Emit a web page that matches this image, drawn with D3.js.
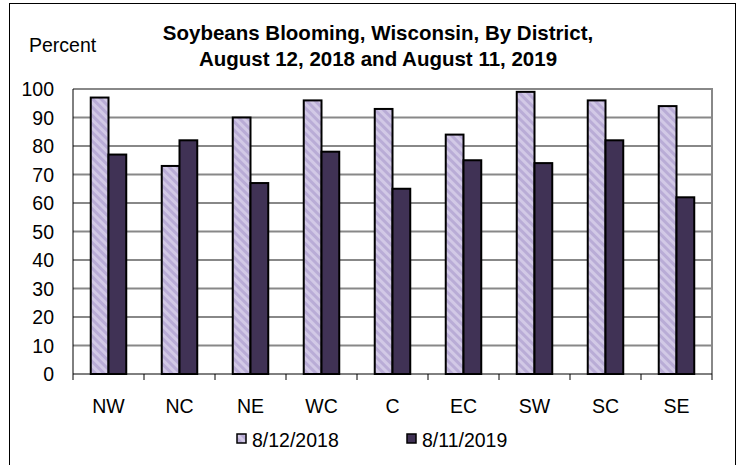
<!DOCTYPE html>
<html>
<head>
<meta charset="utf-8">
<script src="https://cdn.jsdelivr.net/npm/d3@7"></script>
<style>
  body { margin: 0; background: #fff; }
  text { font-family: "Liberation Sans", Arial, sans-serif; }
</style>
</head>
<body>
<svg id="chart" width="743" height="465"></svg>
<script>
// districts and the two survey weeks
const districts = ["NW", "NC", "NE", "WC", "C", "EC", "SW", "SC", "SE"];
const seriesNames = ["8/12/2018", "8/11/2019"];
const values2018 = [97, 73, 90, 96, 93, 84, 99, 96, 94];
const values2019 = [77, 82, 67, 78, 65, 75, 74, 82, 62];
const yTicks = [0, 10, 20, 30, 40, 50, 60, 70, 80, 90, 100];

const svg = d3.select("#chart");
const defs = svg.append("defs");

// diagonal stripe fill for the 2018 bars
const pat = defs.append("pattern")
  .attr("id", "stripe")
  .attr("patternUnits", "userSpaceOnUse")
  .attr("width", 6).attr("height", 6)
  .attr("patternTransform", "rotate(-45)");
pat.append("rect").attr("width", 6).attr("height", 6).attr("fill", "#d2c9e6");
pat.append("rect").attr("width", 3).attr("height", 6).attr("fill", "#b9acd6");

const colors = ["url(#stripe)", "#403255"];

// outer frame
svg.append("rect")
  .attr("x", 9.5).attr("y", 3.5)
  .attr("width", 726).attr("height", 470)
  .attr("fill", "none").attr("stroke", "#000").attr("stroke-width", 1);

const plot = { left: 73, right: 712, top: 89, bottom: 374 };

const x = d3.scaleBand().domain(districts).range([plot.left, plot.right]);
const y = d3.scaleLinear().domain([0, 100]).range([plot.bottom, plot.top]);

// gridlines
svg.append("g").selectAll("line")
  .data(yTicks.filter(d => d > 0))
  .join("line")
  .attr("x1", plot.left).attr("x2", plot.right)
  .attr("y1", d => y(d)).attr("y2", d => y(d))
  .attr("stroke", "#888").attr("stroke-width", 2);

// right border of plot
svg.append("line")
  .attr("x1", plot.right).attr("x2", plot.right)
  .attr("y1", plot.top - 1).attr("y2", plot.bottom)
  .attr("stroke", "#888").attr("stroke-width", 2);

// bars
const barW = x.bandwidth() / 4;
const rows = [values2018, values2019];
rows.forEach((vals, si) => {
  svg.append("g").selectAll("rect")
    .data(districts.map((d, i) => ({ d, v: vals[i] })))
    .join("rect")
    .attr("x", p => x(p.d) + x.bandwidth() / 4 + si * barW)
    .attr("y", p => y(p.v))
    .attr("width", barW)
    .attr("height", p => y(0) - y(p.v))
    .attr("fill", colors[si])
    .attr("stroke", "#000").attr("stroke-width", 2);
});

// axes
svg.append("line")
  .attr("x1", plot.left).attr("x2", plot.left)
  .attr("y1", plot.top).attr("y2", plot.bottom)
  .attr("stroke", "#000").attr("stroke-width", 1);
svg.append("line")
  .attr("x1", plot.left).attr("x2", plot.right)
  .attr("y1", plot.bottom).attr("y2", plot.bottom)
  .attr("stroke", "#000").attr("stroke-width", 1);

// category boundary ticks
svg.append("g").selectAll("line")
  .data(d3.range(districts.length + 1))
  .join("line")
  .attr("x1", i => plot.left + i * x.step())
  .attr("x2", i => plot.left + i * x.step())
  .attr("y1", plot.bottom).attr("y2", plot.bottom + 6)
  .attr("stroke", "#000");

// y tick labels
svg.append("g").selectAll("text")
  .data(yTicks)
  .join("text")
  .attr("x", 54)
  .attr("y", d => y(d))
  .attr("dy", "0.36em")
  .attr("text-anchor", "end")
  .attr("font-size", 19.5)
  .text(d => d);

// x labels
svg.append("g").selectAll("text")
  .data(districts)
  .join("text")
  .attr("x", d => x(d) + x.bandwidth() / 2)
  .attr("y", 413)
  .attr("text-anchor", "middle")
  .attr("font-size", 19.5)
  .text(d => d);

// titles
svg.append("text")
  .attr("x", 29).attr("y", 52)
  .attr("font-size", 19.5)
  .text("Percent");

const title = svg.append("text")
  .attr("text-anchor", "middle")
  .attr("font-size", 20.5)
  .attr("font-weight", "bold");
title.append("tspan").attr("x", 378).attr("y", 40)
  .text("Soybeans Blooming, Wisconsin, By District,");
title.append("tspan").attr("x", 378).attr("y", 66)
  .text("August 12, 2018 and August 11, 2019");

// legend
const legendX = [237, 407];
seriesNames.forEach((name, i) => {
  svg.append("rect")
    .attr("x", legendX[i]).attr("y", 434)
    .attr("width", 9).attr("height", 9)
    .attr("fill", colors[i])
    .attr("stroke", "#000").attr("stroke-width", 1.5);
  svg.append("text")
    .attr("x", legendX[i] + 15).attr("y", 447)
    .attr("font-size", 19.5)
    .text(name);
});
</script>
</body>
</html>
